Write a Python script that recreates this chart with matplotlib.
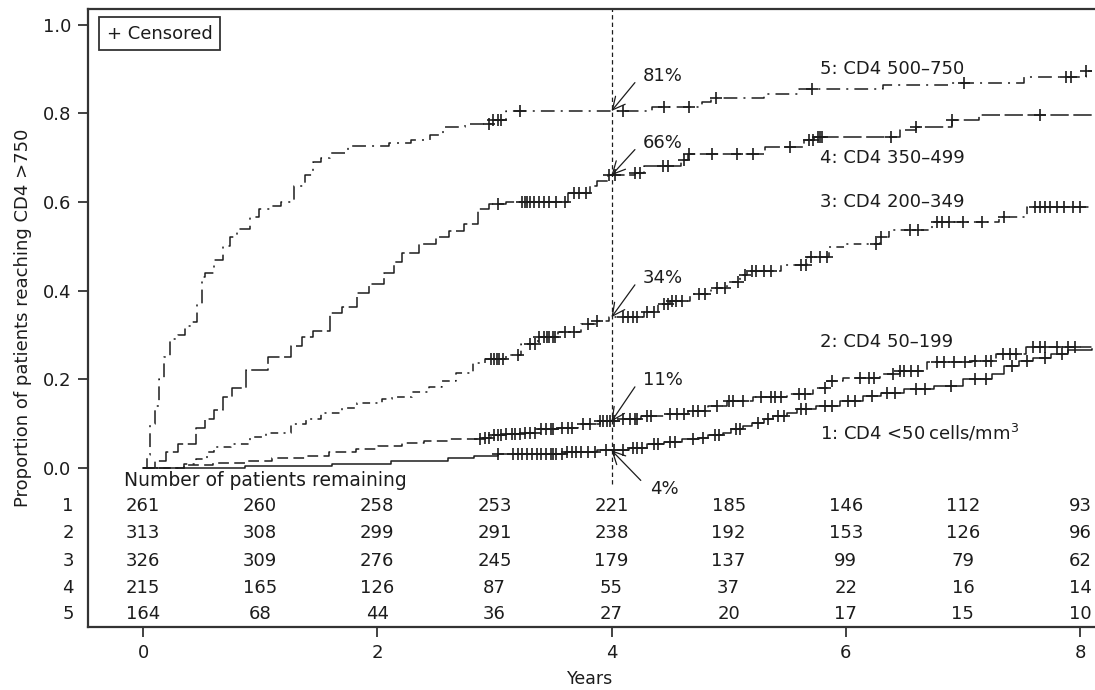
import matplotlib
matplotlib.use("Agg")
import matplotlib.pyplot as plt
import numpy as np

plt.rcParams["font.family"] = ["DejaVu Sans"]
plt.rcParams["font.size"] = 13

# Kaplan-Meier style step curves: event times (years) and cumulative proportion
t1 = [0, 0.87, 1.61, 2.12, 2.6, 2.83, 3.03, 3.6, 3.88, 4.15, 4.3, 4.45, 4.6, 4.75, 4.82,
      4.95, 5.02, 5.12, 5.2, 5.3, 5.38, 5.5, 5.58, 5.75, 5.95, 6.15, 6.3, 6.5, 6.75, 7.0,
      7.25, 7.35, 7.48, 7.6, 7.75, 7.9, 8.1]
v1 = [0, 0.004, 0.008, 0.016, 0.023, 0.027, 0.032, 0.036, 0.04, 0.046, 0.054, 0.058, 0.065,
      0.068, 0.074, 0.08, 0.088, 0.095, 0.102, 0.11, 0.117, 0.125, 0.133, 0.14, 0.151, 0.163,
      0.17, 0.178, 0.185, 0.2, 0.212, 0.23, 0.242, 0.249, 0.257, 0.265, 0.268]

t2 = [0, 0.35, 0.6, 0.88, 1.1, 1.39, 1.59, 1.82, 2.01, 2.21, 2.4, 2.61, 2.89, 2.97, 3.1,
      3.23, 3.37, 3.54, 3.71, 3.9, 4.1, 4.25, 4.45, 4.65, 4.82, 4.99, 5.21, 5.5, 5.72, 5.84,
      5.98, 6.29, 6.46, 6.69, 7.08, 7.28, 7.54, 8.1]
v2 = [0, 0.006, 0.012, 0.016, 0.023, 0.027, 0.035, 0.043, 0.05, 0.057, 0.061, 0.065, 0.068,
      0.074, 0.077, 0.08, 0.088, 0.091, 0.099, 0.105, 0.11, 0.117, 0.121, 0.129, 0.14, 0.151,
      0.159, 0.167, 0.181, 0.197, 0.204, 0.212, 0.219, 0.238, 0.242, 0.257, 0.272, 0.272]

t3 = [0, 0.35, 0.45, 0.55, 0.61, 0.75, 0.91, 1.05, 1.26, 1.39, 1.52, 1.7, 1.83, 2.04, 2.13,
      2.3, 2.44, 2.55, 2.67, 2.82, 2.92, 3.1, 3.23, 3.37, 3.54, 3.74, 3.88, 3.98, 4.28, 4.4,
      4.5, 4.67, 4.85, 4.99, 5.1, 5.16, 5.45, 5.67, 5.86, 6.0, 6.29, 6.37, 6.74, 7.31, 7.55,
      8.1]
v3 = [0, 0.01, 0.02, 0.035, 0.047, 0.055, 0.07, 0.08, 0.1, 0.11, 0.123, 0.135, 0.146, 0.155,
      0.16, 0.172, 0.183, 0.196, 0.214, 0.236, 0.245, 0.255, 0.28, 0.295, 0.306, 0.325, 0.332,
      0.34, 0.351, 0.37, 0.377, 0.393, 0.405, 0.42, 0.435, 0.445, 0.457, 0.475, 0.498, 0.506,
      0.52, 0.536, 0.554, 0.566, 0.588, 0.588]

t4 = [0, 0.1, 0.2, 0.3, 0.45, 0.53, 0.61, 0.68, 0.76, 0.88, 1.07, 1.26, 1.36, 1.45, 1.6,
      1.7, 1.83, 1.93, 2.06, 2.14, 2.21, 2.36, 2.5, 2.61, 2.74, 2.86, 2.95, 3.1, 3.63, 3.82,
      3.88, 3.97, 4.2, 4.28, 4.59, 4.65, 5.31, 5.64, 5.73, 6.46, 6.6, 6.91, 7.14, 8.1]
v4 = [0, 0.015, 0.035, 0.055, 0.09, 0.11, 0.13, 0.16, 0.18, 0.222, 0.25, 0.275, 0.295, 0.31,
      0.35, 0.362, 0.394, 0.415, 0.44, 0.465, 0.484, 0.506, 0.52, 0.535, 0.55, 0.585, 0.596,
      0.60, 0.619, 0.637, 0.648, 0.66, 0.665, 0.68, 0.694, 0.709, 0.724, 0.739, 0.746, 0.762,
      0.769, 0.784, 0.795, 0.795]

t5 = [0, 0.03, 0.06, 0.1, 0.14, 0.18, 0.23, 0.3, 0.36, 0.42, 0.46, 0.5, 0.53, 0.61, 0.68,
      0.74, 0.8, 0.91, 0.99, 1.1, 1.18, 1.29, 1.38, 1.45, 1.52, 1.6, 1.75, 2.1, 2.29, 2.45,
      2.56, 2.75, 2.97, 3.1, 4.35, 4.77, 4.85, 5.3, 5.6, 6.32, 6.9, 7.52, 8.05, 8.1]
v5 = [0, 0.03, 0.10, 0.14, 0.2, 0.25, 0.29, 0.3, 0.32, 0.33, 0.37, 0.43, 0.44, 0.47, 0.50,
      0.52, 0.54, 0.565, 0.585, 0.59, 0.60, 0.635, 0.66, 0.69, 0.70, 0.71, 0.725, 0.733,
      0.74, 0.75, 0.77, 0.775, 0.785, 0.805, 0.815, 0.825, 0.834, 0.844, 0.854, 0.863,
      0.868, 0.882, 0.895, 0.895]

# censoring times (years)
c1 = [3.03, 3.16, 3.2, 3.24, 3.28, 3.32, 3.36, 3.4, 3.44, 3.48, 3.5, 3.53, 3.58, 3.62, 3.66,
      3.7, 3.74, 3.8, 3.86, 3.95, 4.02, 4.1, 4.18, 4.22, 4.26, 4.36, 4.4, 4.5, 4.54, 4.7, 4.78,
      4.88, 4.92, 5.06, 5.1, 5.25, 5.34, 5.42, 5.47, 5.62, 5.66, 5.82, 5.88, 6.02, 6.08, 6.22,
      6.35, 6.42, 6.6, 6.68, 6.9, 7.1, 7.2, 7.42, 7.55, 7.7, 7.85]
c2 = [2.88, 2.92, 2.95, 3.0, 3.03, 3.06, 3.1, 3.15, 3.18, 3.22, 3.26, 3.3, 3.35, 3.4, 3.44,
      3.48, 3.5, 3.58, 3.63, 3.66, 3.76, 3.82, 3.9, 3.93, 3.96, 3.99, 4.02, 4.1, 4.16, 4.2,
      4.22, 4.3, 4.34, 4.5, 4.56, 4.62, 4.7, 4.74, 4.8, 4.9, 5.0, 5.04, 5.12, 5.28, 5.36, 5.4,
      5.45, 5.6, 5.65, 5.82, 5.88, 6.12, 6.2, 6.24, 6.4, 6.46, 6.5, 6.56, 6.62, 6.78, 6.84,
      6.92, 7.02, 7.1, 7.2, 7.24, 7.34, 7.4, 7.45, 7.6, 7.66, 7.7, 7.8, 7.9, 7.96]
c3 = [2.97, 3.0, 3.02, 3.04, 3.07, 3.2, 3.3, 3.35, 3.38, 3.42, 3.45, 3.47, 3.5, 3.52, 3.6,
      3.68, 3.8, 3.88, 4.1, 4.14, 4.18, 4.22, 4.3, 4.36, 4.45, 4.48, 4.52, 4.55, 4.6, 4.75,
      4.8, 4.9, 4.97, 5.08, 5.14, 5.2, 5.23, 5.3, 5.36, 5.62, 5.66, 5.7, 5.78, 5.84, 6.26,
      6.3, 6.55, 6.62, 6.78, 6.82, 6.88, 7.0, 7.16, 7.35, 7.62, 7.66, 7.7, 7.74, 7.8, 7.86,
      7.94, 8.0]
c4 = [3.03, 3.24, 3.26, 3.28, 3.3, 3.34, 3.38, 3.42, 3.47, 3.53, 3.6, 3.68, 3.72, 3.78, 3.98,
      4.03, 4.2, 4.24, 4.44, 4.48, 4.62, 4.66, 4.86, 5.07, 5.21, 5.52, 5.69, 5.72, 5.76, 5.78,
      5.8, 6.39, 6.6, 6.91, 7.66]
c5 = [2.95, 2.99, 3.03, 3.06, 3.22, 4.1, 4.45, 4.66, 4.89, 5.71, 7.01, 7.88, 7.92, 8.05]

curve_labels = ["1: CD4 <50\u2009cells/mm$^{3}$", "2: CD4 50\u2013199",
                "3: CD4 200\u2013349", "4: CD4 350\u2013499", "5: CD4 500\u2013750"]
label_y = [0.079, 0.284, 0.60, 0.70, 0.90]

pct_labels = ["4%", "11%", "34%", "66%", "81%"]
pct_y = [-0.048, 0.198, 0.428, 0.733, 0.884]

risk_years = [0, 1, 2, 3, 4, 5, 6, 7, 8]
at_risk = [
    [261, 260, 258, 253, 221, 185, 146, 112, 93],
    [313, 308, 299, 291, 238, 192, 153, 126, 96],
    [326, 309, 276, 245, 179, 137, 99, 79, 62],
    [215, 165, 126, 87, 55, 37, 22, 16, 14],
    [164, 68, 44, 36, 27, 20, 17, 15, 10],
]

ink = "#1c1c1c"
styles = [
    "-",
    (0, (7, 3.5)),
    (0, (5, 3.5, 1.3, 3.5)),
    (0, (12, 3)),
    (0, (9, 4, 1.3, 4)),
]

fig = plt.figure(figsize=(10.95, 6.9), dpi=100)
# axes run past the right edge of the figure, as in the cropped original
ax = fig.add_axes([88 / 1095, 63 / 690, 1012 / 1095, 617.7 / 690])
ax.set_xlim(-0.4696, -0.4696 + 1012 / 117.125)
ax.set_ylim(-0.3585, 1.0343)

curves = [(t1, v1, c1), (t2, v2, c2), (t3, v3, c3), (t4, v4, c4), (t5, v5, c5)]
for (t, v, c), ls in zip(curves, styles):
    t = np.array(t)
    v = np.array(v)
    ax.plot(t, v, drawstyle="steps-post", color=ink, lw=1.1, linestyle=ls)
    c = np.array(c)
    idx = np.searchsorted(t, c, side="right") - 1
    ax.plot(c, v[idx], linestyle="none", marker="+", markersize=8,
            markeredgewidth=1.2, color=ink)

# 4-year reference line
ax.plot([4, 4], [-0.035, 1.0343], color=ink, lw=0.9, linestyle=(0, (3.5, 2.5)))

# percentages at 4 years
v_at4 = []
for t, v, c in curves:
    idx = np.searchsorted(np.array(t), 4.0, side="right") - 1
    v_at4.append(v[idx])

for i, (lab, val, ty) in enumerate(zip(pct_labels, v_at4, pct_y)):
    if i == 0:
        tail = (4.25, -0.028)
        txt_x = 4.33
    else:
        tail = (4.2, ty - 0.015)
        txt_x = 4.27
    ax.annotate("", xy=(4.0, val), xytext=tail,
                arrowprops=dict(arrowstyle="->,head_length=0.5,head_width=0.25",
                                lw=0.9, color=ink, shrinkA=0, shrinkB=0,
                                mutation_scale=18))
    ax.text(txt_x, ty, lab, ha="left", va="center", color=ink)

for lab, y in zip(curve_labels, label_y):
    ax.text(5.78, y, lab, ha="left", va="center", color=ink)

# censored key
ax.text(-0.307, 0.979, "+ Censored", ha="left", va="center", color=ink,
        bbox=dict(boxstyle="square,pad=0.42", fc="white", ec="#333333", lw=1.3))

# numbers at risk table
ax.text(-0.162, -0.029, "Number of patients remaining", ha="left", va="center",
        color=ink, fontsize=13.5)
row_y = [-0.0857, -0.1466, -0.2097, -0.2706, -0.329]
for r, (counts, y) in enumerate(zip(at_risk, row_y)):
    ax.text(-0.64, y, str(r + 1), ha="center", va="center", color=ink, clip_on=False)
    for yr, n in zip(risk_years, counts):
        ax.text(yr, y, str(n), ha="center", va="center", color=ink)

for side in ["left", "bottom", "top"]:
    ax.spines[side].set_color("#333333")
    ax.spines[side].set_linewidth(1.6)
ax.spines["right"].set_visible(False)

ax.set_xticks([0, 2, 4, 6, 8])
ax.set_yticks([0.0, 0.2, 0.4, 0.6, 0.8, 1.0])
ax.set_yticklabels(["0.0", "0.2", "0.4", "0.6", "0.8", "1.0"])
ax.tick_params(direction="out", length=7, width=1.3, color="#333333",
               labelcolor=ink, pad=5, labelsize=13)

ax.set_xlabel("Years", fontsize=12.5, color=ink)
ax.xaxis.set_label_coords(502 / 1012, -0.07)
fig.text(23 / 1095, 1 - 318 / 690, "Proportion of patients reaching CD4 >750",
         rotation=90, ha="center", va="center", fontsize=13, color=ink)

fig.savefig("out.png", dpi=100)
